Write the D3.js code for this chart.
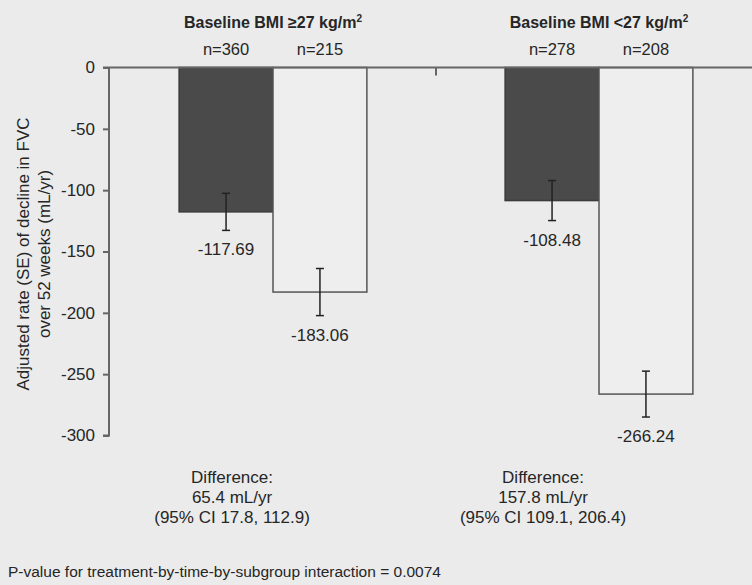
<!DOCTYPE html>
<html>
<head>
<meta charset="utf-8">
<script src="https://cdn.jsdelivr.net/npm/d3@7/dist/d3.min.js"></script>
<style>
  body { margin: 0; background: #ebebeb; }
  svg { display: block; font-family: "Liberation Sans", Arial, sans-serif; }
  text { fill: #262626; }
</style>
</head>
<body>
<script>
// chart data
const groups = ["Baseline BMI \u226527 kg/m", "Baseline BMI <27 kg/m"];
const arms = ["nintedanib", "placebo"];
const nValues = [[360, 215], [278, 208]];
const rates = [[-117.69, -183.06], [-108.48, -266.24]];
const seValues = [[15.1, 19.2], [16.3, 18.7]];
const diffLines = [
  ["Difference:", "65.4 mL/yr", "(95% CI 17.8, 112.9)"],
  ["Difference:", "157.8 mL/yr", "(95% CI 109.1, 206.4)"]
];
const yTicks = [0, -50, -100, -150, -200, -250, -300];
const pText = "P-value for treatment-by-time-by-subgroup interaction = 0.0074";

const width = 752, height = 585;

const svg = d3.select("body").append("svg")
  .attr("width", width)
  .attr("height", height);

svg.append("rect").attr("width", width).attr("height", height).attr("fill", "#ebebeb");

// scales
const y = d3.scaleLinear().domain([0, -300]).range([67.5, 435.5]);

const x0 = d3.scaleBand()
  .domain(groups)
  .range([110, 762])
  .paddingInner(0.424)
  .paddingOuter(0.212);

const x1 = d3.scaleBand()
  .domain(arms)
  .range([0, x0.bandwidth()]);

// y axis
const yAxis = d3.axisLeft(y)
  .tickValues(yTicks)
  .tickFormat(d => String(d))
  .tickSize(6)
  .tickPadding(8);

const yG = svg.append("g")
  .attr("transform", "translate(109,0)")
  .call(yAxis);
yG.select(".domain").attr("stroke", "#666").attr("stroke-width", 2).attr("d", "M-6,435.5H0V67.5");
yG.selectAll(".tick line").attr("stroke", "#666").attr("stroke-width", 2);
yG.selectAll(".tick text")
  .style("font-size", "17px")
  .attr("fill", "#262626");

// y axis title
const yTitle = svg.append("text")
  .attr("transform", "translate(29,254) rotate(-90)")
  .attr("text-anchor", "middle")
  .style("font-size", "17px");
yTitle.append("tspan").attr("x", 0).attr("dy", 0).text("Adjusted rate (SE) of decline in FVC");
yTitle.append("tspan").attr("x", 0).attr("dy", 21).text("over 52 weeks (mL/yr)");

// bars
const flat = [];
groups.forEach((g, gi) => {
  arms.forEach((a, ai) => {
    flat.push({ group: g, arm: a, value: rates[gi][ai], se: seValues[gi][ai], n: nValues[gi][ai] });
  });
});

svg.selectAll(".bar")
  .data(flat)
  .enter()
  .append("rect")
    .attr("class", "bar")
    .attr("x", d => x0(d.group) + x1(d.arm))
    .attr("y", y(0))
    .attr("width", x1.bandwidth())
    .attr("height", d => y(d.value) - y(0))
    .attr("fill", d => d.arm === "nintedanib" ? "#4a4a4a" : "#eeeeee")
    .attr("stroke", d => d.arm === "nintedanib" ? "#3a3a3a" : "#555")
    .attr("stroke-width", 1.5);

// zero line and group separator tick
svg.append("line")
  .attr("x1", 103).attr("x2", width)
  .attr("y1", y(0)).attr("y2", y(0))
  .attr("stroke", "#666").attr("stroke-width", 2);

const sepX = (x0(groups[0]) + x0.bandwidth() + x0(groups[1])) / 2;
svg.append("line")
  .attr("x1", sepX).attr("x2", sepX)
  .attr("y1", y(0)).attr("y2", y(0) + 8)
  .attr("stroke", "#666").attr("stroke-width", 2);

// error bars
const cx = d => x0(d.group) + x1(d.arm) + x1.bandwidth() / 2;
const err = svg.selectAll(".err")
  .data(flat)
  .enter()
  .append("g")
  .attr("class", "err")
  .attr("stroke", "#222")
  .attr("stroke-width", 1.5);
err.append("line")
  .attr("x1", cx).attr("x2", cx)
  .attr("y1", d => y(d.value + d.se)).attr("y2", d => y(d.value - d.se));
err.append("line")
  .attr("x1", d => cx(d) - 4).attr("x2", d => cx(d) + 4)
  .attr("y1", d => y(d.value + d.se)).attr("y2", d => y(d.value + d.se));
err.append("line")
  .attr("x1", d => cx(d) - 4).attr("x2", d => cx(d) + 4)
  .attr("y1", d => y(d.value - d.se)).attr("y2", d => y(d.value - d.se));

// value labels
svg.selectAll(".label")
  .data(flat)
  .enter()
  .append("text")
    .attr("class", "label")
    .attr("x", cx)
    .attr("y", d => y(d.value - d.se) + 25)
    .attr("text-anchor", "middle")
    .style("font-size", "17px")
    .text(d => d.value.toFixed(2));

// n labels
svg.selectAll(".nlabel")
  .data(flat)
  .enter()
  .append("text")
    .attr("class", "nlabel")
    .attr("x", cx)
    .attr("y", 55)
    .attr("text-anchor", "middle")
    .style("font-size", "16.5px")
    .text(d => "n=" + d.n);

// group headers
groups.forEach(g => {
  const t = svg.append("text")
    .attr("x", x0(g) + x0.bandwidth() / 2)
    .attr("y", 28)
    .attr("text-anchor", "middle")
    .style("font-size", "16px")
    .style("font-weight", "bold")
    .text(g);
  t.append("tspan").attr("dy", -6).style("font-size", "10px").text("2");
});

// difference notes
const diffNudge = [6, -9];
diffLines.forEach((lines, gi) => {
  const gx = x0(groups[gi]) + x1(arms[0]) + x1.bandwidth() / 2 + diffNudge[gi];
  svg.append("text")
    .attr("x", gx)
    .attr("y", 483)
    .attr("text-anchor", "middle")
    .style("font-size", "17px")
    .selectAll("tspan")
    .data(lines)
    .enter()
    .append("tspan")
      .attr("x", gx)
      .attr("dy", (d, i) => i === 0 ? 0 : 20)
      .text(d => d);
});

// p-value footnote
svg.append("text")
  .attr("x", 8)
  .attr("y", 577)
  .style("font-size", "15.5px")
  .text(pText);
</script>
</body>
</html>
